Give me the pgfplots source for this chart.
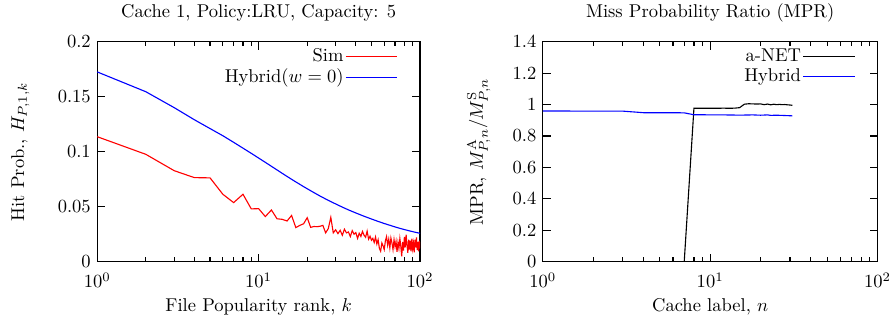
\documentclass[border=0pt]{standalone}
\usepackage{pgfplots}
\pgfplotsset{compat=1.18}
\pgfplotstableread{
k h
1 0.1136
2 0.0976
3 0.0827
4 0.0764
5 0.0762
6 0.0613
7 0.0537
8 0.0613
9 0.0480
10 0.0482
11 0.0410
12 0.0470
13 0.0390
14 0.0385
15 0.0370
16 0.0420
17 0.0310
18 0.0330
19 0.0345
20 0.0400
21 0.0312
22 0.0320
23 0.0318
24 0.0322
25 0.0330
26 0.0262
27 0.0300
28 0.0403
29 0.0262
30 0.0290
31 0.0255
32 0.0285
33 0.0240
34 0.0295
35 0.0262
36 0.0270
37 0.0228
38 0.0282
39 0.0250
40 0.0265
41 0.0212
42 0.0258
43 0.0230
44 0.0275
45 0.0240
46 0.0222
47 0.0278
48 0.0205
49 0.0232
50 0.0195
51 0.0212
52 0.0175
53 0.0225
54 0.0160
55 0.0200
56 0.0120
57 0.0095
58 0.0170
59 0.0145
60 0.0110
61 0.0190
62 0.0228
63 0.0150
64 0.0205
65 0.0125
66 0.0215
67 0.0170
68 0.0110
69 0.0200
70 0.0135
71 0.0185
72 0.0090
73 0.0175
74 0.0120
75 0.0210
76 0.0140
77 0.0048
78 0.0180
79 0.0100
80 0.0225
81 0.0130
82 0.0245
83 0.0150
84 0.0080
85 0.0200
86 0.0110
87 0.0190
88 0.0095
89 0.0210
90 0.0120
91 0.0170
92 0.0085
93 0.0200
94 0.0130
95 0.0220
96 0.0105
97 0.0180
98 0.0095
99 0.0190
100 0.0120
}\simdata
\pgfplotstableread{
k h
1 0.1725
2 0.1545
3 0.1400
4 0.1290
5 0.1210
6 0.1145
7 0.1085
8 0.1032
9 0.0985
10 0.0942
11 0.0903
12 0.0867
13 0.0834
14 0.0803
15 0.0775
16 0.0749
17 0.0725
18 0.0703
19 0.0682
20 0.0663
22 0.0628
24 0.0597
26 0.0570
28 0.0546
30 0.0525
33 0.0496
36 0.0471
40 0.0443
45 0.0413
50 0.0388
55 0.0366
60 0.0347
65 0.0331
70 0.0316
75 0.0303
80 0.0292
85 0.0282
90 0.0273
95 0.0265
100 0.0258
}\hybdata
\pgfplotstableread{
n r
4 0
5 0
6 0
7 0
8 0.976
9 0.976
10 0.976
11 0.976
12 0.977
13 0.976
14 0.977
15 0.980
16 1.002
17 1.005
18 1.004
19 1.003
20 1.004
21 0.999
22 1.003
23 0.998
24 1.002
25 0.999
26 1.001
27 0.999
28 1.000
29 0.998
30 0.997
31 0.995
}\anetdata
\pgfplotstableread{
n r
1 0.959
2 0.958
3 0.958
4 0.948
5 0.948
6 0.948
7 0.947
8 0.935
9 0.935
10 0.934
12 0.934
14 0.933
16 0.933
18 0.934
20 0.932
22 0.934
23 0.931
25 0.932
28 0.930
31 0.928
}\hybmpr
\pgfplotsset{
  gp/.style={
    scale only axis,
    xmin=1, xmax=100,
    ymin=0,
    height=118.8pt,
    axis line style={line width=0.7pt},
    every tick/.style={black, line width=0.6pt},
    major tick length=4.3pt,
    minor tick length=2.4pt,
    yticklabel style={/pgf/number format/fixed},
    xticklabel shift=2.5pt,
    ylabel style={anchor=center},
    xlabel style={at={(axis description cs:0.5,-0.205)}, anchor=center},
    title style={at={(axis description cs:0.5,1.0795)}, anchor=center},
    legend style={draw=none, fill=none, at={(axis description cs:1,1)}, anchor=north east,
      xshift=-11.9pt, yshift=-2.5pt, inner sep=0pt, row sep=0.5pt,
      nodes={inner sep=1pt}},
    legend cell align=right,
    legend plot pos=right,
    legend image code/.code={\draw[##1] (6pt,0pt) -- (33.6pt,0pt);},
  }
}
\begin{document}
\begin{tikzpicture}
\useasboundingbox (0pt,0pt) rectangle (481.1pt,173.3pt);
\begin{semilogxaxis}[gp,
  at={(52.5pt,32.0pt)}, anchor=south west,
  width=174.3pt,
  ymax=0.2,
  ytick={0,0.05,0.1,0.15,0.2},
  title={Cache 1, Policy:LRU, Capacity: 5},
  xlabel={File Popularity rank, $k$},
  ylabel={Hit Prob., $H_{P,1,k}$},
  ylabel style={at={(axis description cs:-0.2385,0.5)}},
]
\addplot[red, line width=0.6pt] table[x=k, y=h] {\simdata};
\addlegendentry{Sim\hspace{6pt}}
\addplot[blue, line width=0.6pt] table[x=k, y=h] {\hybdata};
\addlegendentry{Hybrid($w=0$)\hspace{6pt}}
\end{semilogxaxis}
\begin{semilogxaxis}[gp,
  at={(293.1pt,32.0pt)}, anchor=south west,
  width=180.7pt,
  ymax=1.4,
  ytick={0,0.2,0.4,0.6,0.8,1,1.2,1.4},
  title={Miss Probability Ratio (MPR)},
  xlabel={Cache label, $n$},
  ylabel={MPR, $M^{\mathrm{A}}_{P,n}/M^{\mathrm{S}}_{P,n}$},
  ylabel style={at={(axis description cs:-0.191,0.5)}},
]
\addplot[black, line width=0.6pt] table[x=n, y=r] {\anetdata};
\addlegendentry{a-NET\hspace{6pt}}
\addplot[blue, line width=0.6pt] table[x=n, y=r] {\hybmpr};
\addlegendentry{Hybrid\hspace{6pt}}
\end{semilogxaxis}
\end{tikzpicture}
\end{document}
